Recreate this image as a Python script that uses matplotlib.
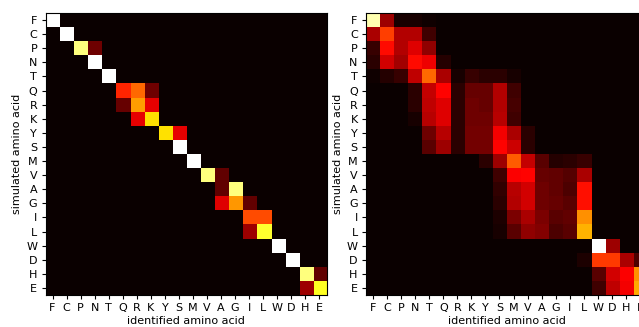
import numpy as np
import matplotlib
matplotlib.use("Agg")
import matplotlib.pyplot as plt

amino_acids = ["F", "C", "P", "N", "T", "Q", "R", "K", "Y", "S",
               "M", "V", "A", "G", "I", "L", "W", "D", "H", "E"]

# Left panel: confusion (simulated row -> identified column), sparse entries
left_entries = {
    "F": {"F": 1.0},
    "C": {"C": 1.0},
    "P": {"P": 0.87, "N": 0.15},
    "N": {"N": 1.0},
    "T": {"T": 1.0},
    "Q": {"Q": 0.42, "R": 0.52, "K": 0.15},
    "R": {"Q": 0.14, "R": 0.60, "K": 0.33},
    "K": {"R": 0.33, "K": 0.70},
    "Y": {"Y": 0.70, "S": 0.33},
    "S": {"S": 1.0},
    "M": {"M": 1.0},
    "V": {"V": 0.87, "A": 0.13},
    "A": {"A": 0.13, "G": 0.87},
    "G": {"A": 0.32, "G": 0.59, "I": 0.13},
    "I": {"I": 0.48, "L": 0.48},
    "L": {"I": 0.22, "L": 0.79},
    "W": {"W": 1.0},
    "D": {"D": 1.0},
    "H": {"H": 0.87, "E": 0.13},
    "E": {"H": 0.22, "E": 0.78},
}

# Right panel: rows of the full matrix (columns in amino_acids order)
right_rows = {
    "F": [0.92, 0.22, 0.02, 0.02, 0.01, 0, 0, 0, 0, 0, 0, 0, 0, 0, 0, 0, 0, 0, 0, 0],
    "C": [0.24, 0.46, 0.25, 0.25, 0.08, 0, 0, 0, 0, 0, 0, 0, 0, 0, 0, 0, 0, 0, 0, 0],
    "P": [0.07, 0.38, 0.25, 0.32, 0.20, 0, 0, 0, 0, 0, 0, 0, 0, 0, 0, 0, 0, 0, 0, 0],
    "N": [0.05, 0.30, 0.23, 0.38, 0.34, 0.04, 0, 0, 0, 0, 0, 0, 0, 0, 0, 0, 0, 0, 0, 0],
    "T": [0.01, 0.04, 0.07, 0.27, 0.52, 0.24, 0.02, 0.07, 0.05, 0.05, 0.02, 0, 0, 0, 0, 0, 0, 0, 0, 0],
    "Q": [0, 0, 0, 0.05, 0.28, 0.37, 0.05, 0.14, 0.14, 0.25, 0.08, 0, 0, 0, 0, 0, 0, 0, 0, 0],
    "R": [0, 0, 0, 0.05, 0.27, 0.32, 0.05, 0.15, 0.14, 0.25, 0.09, 0, 0, 0, 0, 0, 0, 0, 0, 0],
    "K": [0, 0, 0, 0.02, 0.26, 0.32, 0.05, 0.15, 0.15, 0.26, 0.08, 0, 0, 0, 0, 0, 0, 0, 0, 0],
    "Y": [0, 0, 0, 0, 0.15, 0.26, 0.05, 0.16, 0.16, 0.35, 0.24, 0.05, 0, 0, 0, 0, 0, 0, 0, 0],
    "S": [0, 0, 0, 0, 0.12, 0.22, 0.05, 0.16, 0.16, 0.37, 0.29, 0.05, 0, 0, 0, 0, 0, 0, 0, 0],
    "M": [0, 0, 0, 0, 0, 0, 0, 0, 0.05, 0.22, 0.50, 0.28, 0.12, 0.04, 0.05, 0.07, 0, 0, 0, 0],
    "V": [0, 0, 0, 0, 0, 0, 0, 0, 0, 0.08, 0.36, 0.37, 0.14, 0.13, 0.11, 0.24, 0, 0, 0, 0],
    "A": [0, 0, 0, 0, 0, 0, 0, 0, 0, 0.06, 0.26, 0.30, 0.15, 0.13, 0.10, 0.39, 0, 0, 0, 0],
    "G": [0, 0, 0, 0, 0, 0, 0, 0, 0, 0.05, 0.25, 0.30, 0.15, 0.14, 0.12, 0.39, 0, 0, 0, 0],
    "I": [0, 0, 0, 0, 0, 0, 0, 0, 0, 0.03, 0.17, 0.24, 0.17, 0.12, 0.13, 0.58, 0, 0, 0, 0],
    "L": [0, 0, 0, 0, 0, 0, 0, 0, 0, 0.02, 0.12, 0.20, 0.18, 0.10, 0.12, 0.63, 0, 0, 0, 0],
    "W": [0, 0, 0, 0, 0, 0, 0, 0, 0, 0, 0, 0, 0, 0, 0, 0, 1.00, 0.22, 0, 0],
    "D": [0, 0, 0, 0, 0, 0, 0, 0, 0, 0, 0, 0, 0, 0, 0, 0.03, 0.45, 0.45, 0.24, 0.10],
    "H": [0, 0, 0, 0, 0, 0, 0, 0, 0, 0, 0, 0, 0, 0, 0, 0, 0.12, 0.30, 0.36, 0.58],
    "E": [0, 0, 0, 0, 0, 0, 0, 0, 0, 0, 0, 0, 0, 0, 0, 0, 0.08, 0.27, 0.35, 0.62],
}

n = len(amino_acids)
left = np.zeros((n, n))
for i, r in enumerate(amino_acids):
    for c, v in left_entries[r].items():
        left[i, amino_acids.index(c)] = v
right = np.array([right_rows[r] for r in amino_acids])

plt.rcParams["font.size"] = 8
plt.rcParams["xtick.major.size"] = 3
plt.rcParams["ytick.major.size"] = 3
plt.rcParams["xtick.major.pad"] = 3
plt.rcParams["ytick.major.pad"] = 3

fig = plt.figure(figsize=(6.39, 3.27), dpi=100)
W, H = 639, 327
ax1 = fig.add_axes([45.5 / W, 32 / H, 281 / W, 282 / H])
ax2 = fig.add_axes([366 / W, 32 / H, 281 / W, 282 / H])

for ax, mat in ((ax1, left), (ax2, right)):
    ax.imshow(mat, cmap="hot", vmin=0, vmax=1, interpolation="nearest", aspect="auto")
    ax.set_xticks(range(n))
    ax.set_xticklabels(amino_acids)
    ax.set_yticks(range(n))
    ax.set_yticklabels(amino_acids)
    ax.set_xlabel("identified amino acid", labelpad=2)
    ax.set_ylabel("simulated amino acid", labelpad=3)

fig.savefig("out.png", dpi=100)
